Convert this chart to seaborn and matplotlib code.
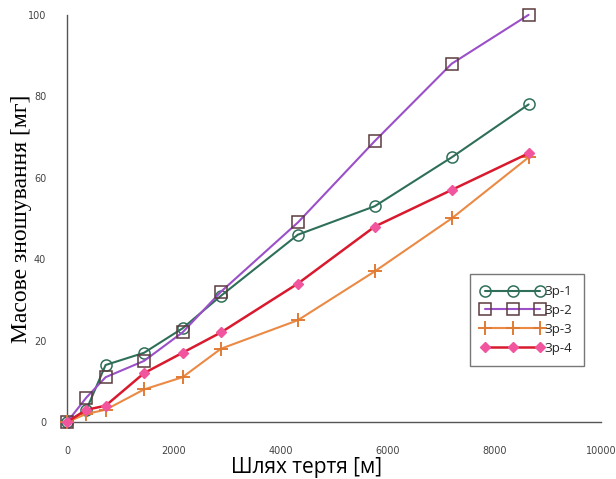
import pandas as pd
import seaborn as sns
import matplotlib.pyplot as plt
from matplotlib.ticker import MultipleLocator

# distance points [m]
distance = [0, 360, 720, 1440, 2160, 2880, 4320, 5760, 7200, 8640]

# mass wear [mg]
zr1 = [0, 3, 14, 17, 23, 31, 46, 53, 65, 78]
zr2 = [0, 6, 11, 15, 22, 32, 49, 69, 88, 100]
zr3 = [0, 2, 3, 8, 11, 18, 25, 37, 50, 65]
zr4 = [0, 3, 4, 12, 17, 22, 34, 48, 57, 66]

labels = ["Зр-1", "Зр-2", "Зр-3", "Зр-4"]

df = pd.DataFrame({
    "distance": distance * 4,
    "wear": zr1 + zr2 + zr3 + zr4,
    "sample": [lab for lab in labels for _ in distance],
})

styles = {
    "Зр-1": dict(color="#2f6f5a", marker="o", mfc="none", mec="#2f6f5a", ms=8, mew=1.1, lw=1.5),
    "Зр-2": dict(color="#9b4fc9", marker="s", mfc="none", mec="#5b3b3f", ms=8, mew=1.1, lw=1.5),
    "Зр-3": dict(color="#ea8a45", marker="+", mfc="#ea8a45", mec="#e07b35", ms=10, mew=1.4, lw=1.5),
    "Зр-4": dict(color="#d91a2e", marker="D", mfc="#f0559e", mec="#f0559e", ms=5.5, mew=1.0, lw=1.8),
}

sns.set_style("white")

fig = plt.figure(figsize=(6.16, 4.79), dpi=100)
ax = fig.add_axes([0.109, 0.119, 0.867, 0.850])

for lab in labels:
    st = styles[lab]
    sns.lineplot(
        data=df[df["sample"] == lab], x="distance", y="wear", ax=ax,
        color=st["color"], lw=st["lw"], marker=st["marker"],
        markerfacecolor=st["mfc"], markeredgecolor=st["mec"],
        markersize=st["ms"], markeredgewidth=st["mew"],
        label=lab, clip_on=False, zorder=3,
    )

ax.set_xlim(0, 10000)
ax.set_ylim(0, 100)
ax.xaxis.set_major_locator(MultipleLocator(2000))
ax.xaxis.set_minor_locator(MultipleLocator(1000))
ax.yaxis.set_major_locator(MultipleLocator(20))
ax.yaxis.set_minor_locator(MultipleLocator(10))

sns.despine(ax=ax)
for side in ["left", "bottom"]:
    ax.spines[side].set_color("#555555")
    ax.spines[side].set_linewidth(1.0)

ax.tick_params(which="major", direction="out", length=11, width=1.0, color="#555555",
               labelsize=7, labelcolor="#444444")
ax.tick_params(which="minor", direction="out", length=6, width=1.0, color="#555555")
ax.tick_params(axis="x", which="major", pad=6)
ax.tick_params(axis="y", which="major", pad=4)

ax.set_xlabel("Шлях тертя [м]", fontsize=15, family="Open Sans", color="black")
ax.xaxis.set_label_coords(0.448, -0.086)
ax.set_ylabel("Масове зношування [мг]", fontsize=17, family="Liberation Serif", color="black")
ax.yaxis.set_label_coords(-0.066, 0.5)

leg = ax.legend(
    loc="upper left", bbox_to_anchor=(0.7547, 0.3636), borderaxespad=0, numpoints=3,
    handlelength=4.75, handletextpad=0.05, labelspacing=0.45,
    frameon=True, fancybox=False, edgecolor="#555555",
    prop={"family": "Open Sans", "size": 9.5}, borderpad=0.85,
)
leg.get_frame().set_linewidth(1.0)

fig.savefig("out.png", dpi=100)
